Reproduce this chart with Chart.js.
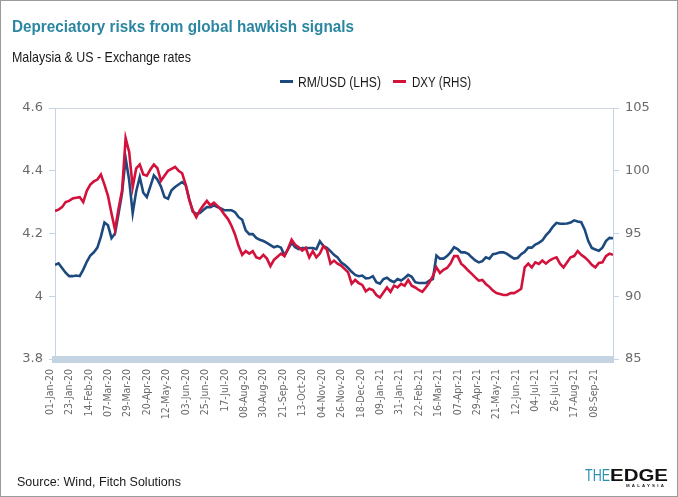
<!DOCTYPE html>
<html>
<head>
<meta charset="utf-8">
<script src="https://cdn.jsdelivr.net/npm/chart.js@4/dist/chart.umd.min.js"></script>
<style>
  html, body { margin: 0; padding: 0; background: #fff; }
  #page { position: relative; width: 678px; height: 497px; overflow: hidden; background: #fff; }
  #frame { position: absolute; left: 0; top: 0; width: 676px; height: 495px; border: 1px solid #9a9a9a; pointer-events: none; }
  canvas#chart { position: absolute; left: 0; top: 0; }
  .t { position: absolute; white-space: nowrap; display: inline-block; transform-origin: 0 50%; font-family: "Liberation Sans", Arial, sans-serif; }
  #title { left: 12px; top: 19px; font-size: 16px; line-height: 16px; font-weight: bold; color: #2b87a1; }
  #subtitle { left: 12px; top: 49px; font-size: 15px; line-height: 15px; color: #1a1a1a; }
  .lgline { position: absolute; height: 3px; width: 13px; }
  #lg1 { left: 298px; top: 74px; font-size: 15.5px; line-height: 15.5px; color: #1a1a1a; }
  #lg2 { left: 412px; top: 74px; font-size: 15.5px; line-height: 15.5px; color: #1a1a1a; }
  #source { left: 17px; top: 475px; font-size: 13px; line-height: 13px; color: #1a1a1a; }
  #logoThe { left: 585px; top: 467px; font-size: 17px; line-height: 17px; color: #2b8fae; font-weight: normal; }
  #logoEdge { left: 610px; top: 467px; font-size: 17px; line-height: 17px; color: #111; font-weight: 900; }
  #logoMy { left: 626px; top: 484px; font-size: 4px; line-height: 4px; color: #222; letter-spacing: 2px; font-weight: bold; }
</style>
</head>
<body>
<div id="page">
  <canvas id="chart" width="678" height="497"></canvas>
  <div class="t" id="title">Depreciatory risks from global hawkish signals</div>
  <div class="t" id="subtitle">Malaysia &amp; US - Exchange rates</div>
  <div class="lgline" style="left:280px; top:80px; background:#1d4a7e;"></div>
  <div class="t" id="lg1">RM/USD (LHS)</div>
  <div class="lgline" style="left:393px; top:80px; background:#d3123c;"></div>
  <div class="t" id="lg2">DXY (RHS)</div>
  <div class="t" id="source">Source: Wind, Fitch Solutions</div>
  <div class="t" id="logoThe">THE</div>
  <div class="t" id="logoEdge">EDGE</div>
  <div class="t" id="logoMy">MALAYSIA</div>
  <div id="frame"></div>
</div>
<script>
// ---- Data ----
// Series sampled every 4 calendar days starting 01-Jan-2020
const startDate = Date.UTC(2020, 0, 1);
const sampleStepDays = 4;
const tickStepDays = 22;

const tickLabels = [
  '01-Jan-20','23-Jan-20','14-Feb-20','07-Mar-20','29-Mar-20','20-Apr-20','12-May-20',
  '03-Jun-20','25-Jun-20','17-Jul-20','08-Aug-20','30-Aug-20','21-Sep-20','13-Oct-20',
  '04-Nov-20','26-Nov-20','18-Dec-20','09-Jan-21','31-Jan-21','22-Feb-21','16-Mar-21',
  '07-Apr-21','29-Apr-21','21-May-21','12-Jun-21','04-Jul-21','26-Jul-21','17-Aug-21','08-Sep-21'
];

const rmUsd = [
  4.100,4.105,4.090,4.075,4.064,4.064,4.066,4.064,4.085,4.110,
  4.130,4.140,4.155,4.190,4.235,4.226,4.185,4.200,4.264,4.330,
  4.440,4.370,4.265,4.335,4.380,4.330,4.316,4.350,4.385,4.372,
  4.350,4.316,4.311,4.338,4.348,4.356,4.364,4.355,4.310,4.270,
  4.263,4.265,4.275,4.284,4.284,4.290,4.284,4.280,4.274,4.274,
  4.274,4.268,4.252,4.244,4.210,4.198,4.198,4.186,4.180,4.176,
  4.170,4.163,4.156,4.160,4.155,4.130,4.150,4.170,4.156,4.150,
  4.154,4.154,4.154,4.154,4.150,4.175,4.160,4.154,4.144,4.132,
  4.124,4.108,4.100,4.090,4.078,4.068,4.064,4.066,4.057,4.058,
  4.064,4.045,4.040,4.055,4.059,4.050,4.045,4.055,4.050,4.058,
  4.068,4.062,4.045,4.042,4.042,4.042,4.050,4.055,4.130,4.120,
  4.120,4.128,4.140,4.156,4.150,4.140,4.140,4.135,4.124,4.114,
  4.108,4.112,4.124,4.120,4.134,4.136,4.140,4.140,4.135,4.127,
  4.120,4.122,4.134,4.142,4.155,4.155,4.165,4.170,4.178,4.194,
  4.206,4.222,4.234,4.231,4.231,4.232,4.235,4.242,4.238,4.236,
  4.212,4.176,4.154,4.149,4.145,4.155,4.176,4.186,4.185
];

const dxy = [
  96.8,96.9,97.1,97.5,97.6,97.8,97.85,97.9,97.5,98.4,
  98.9,99.15,99.3,99.7,98.9,98.0,96.6,95.3,97.0,98.44,
  102.6,101.5,98.7,100.2,100.5,99.7,99.6,100.1,100.5,100.2,
  99.2,99.6,100.0,100.15,100.3,100.0,99.8,98.9,97.7,96.84,
  96.3,96.84,97.24,97.6,97.24,97.45,97.2,96.9,96.5,96.15,
  95.6,94.9,94.0,93.3,93.6,93.4,93.6,93.1,93.0,93.3,
  93.0,92.4,92.9,93.15,93.4,93.2,93.8,94.5,94.1,93.9,
  93.64,93.85,93.1,93.6,93.1,93.4,94.0,93.7,92.6,92.84,
  92.6,92.44,92.18,91.9,91.0,91.3,91.05,90.9,90.4,90.6,
  90.5,90.1,89.9,90.3,90.7,90.35,90.84,90.7,90.98,90.84,
  91.3,90.84,90.7,90.5,90.35,90.7,91.1,91.6,92.3,91.85,
  92.1,92.25,92.6,93.2,93.2,92.6,92.35,92.05,91.78,91.5,
  91.24,91.3,90.98,90.75,90.45,90.25,90.18,90.1,90.1,90.25,
  90.25,90.4,90.6,92.3,92.6,92.3,92.7,92.58,92.84,92.6,
  92.84,93.0,93.1,92.6,92.3,92.7,93.1,93.2,93.6,93.3,
  93.1,92.84,92.5,92.3,92.65,92.7,93.2,93.4,93.3
];

const leftTicks = [3.8, 4, 4.2, 4.4, 4.6];
const rightTicks = [85, 90, 95, 100, 105];

// ---- Build chart ----
const toPoints = arr => arr.map((v, i) => ({ x: i * sampleStepDays, y: v }));
const lastDay = (rmUsd.length - 1) * sampleStepDays;

const axisCol = '#c5d4e3';
const tickFont = { family: 'DejaVu Sans', size: 13 };
const xFont = { family: 'DejaVu Sans Condensed, DejaVu Sans', size: 10.5 };

new Chart(document.getElementById('chart'), {
  type: 'line',
  data: {
    datasets: [
      { label: 'RM/USD (LHS)', data: toPoints(rmUsd), yAxisID: 'y', borderColor: '#1d4a7e',
        borderWidth: 2.6, pointRadius: 0, tension: 0, order: 1 },
      { label: 'DXY (RHS)', data: toPoints(dxy), yAxisID: 'y1', borderColor: '#d3123c',
        borderWidth: 2.6, pointRadius: 0, tension: 0, order: 0 }
    ]
  },
  options: {
    responsive: false,
    animation: false,
    devicePixelRatio: 1,
    layout: { padding: { top: 108, left: 0, right: 0, bottom: 0 } },
    plugins: { legend: { display: false }, tooltip: { enabled: false } },
    scales: {
      x: {
        type: 'linear', min: 0, max: lastDay,
        grid: { display: false, drawTicks: false },
        border: { display: true, color: axisCol, width: 7 },
        afterBuildTicks: s => { s.ticks = tickLabels.map((_, i) => ({ value: i * tickStepDays })); },
        afterFit: s => { s.height = 497 - 359; },
        ticks: {
          autoSkip: false, minRotation: 90, maxRotation: 90, padding: 10, labelOffset: -5,
          color: '#6a6a6a', font: xFont,
          callback: (v, i) => tickLabels[i]
        }
      },
      y: {
        position: 'left', min: 3.8, max: 4.6,
        afterBuildTicks: s => { s.ticks = leftTicks.map(v => ({ value: v })); },
        afterFit: s => { s.width = 55; },
        grid: {
          color: c => (c.tick && c.tick.value === 4.6) ? '#cfd6de' : 'rgba(0,0,0,0)',
          tickColor: axisCol, tickLength: 6, lineWidth: 1
        },
        border: { display: true, color: axisCol, width: 1 },
        ticks: { padding: 6, color: '#6a6a6a', font: tickFont, callback: v => String(v) }
      },
      y1: {
        position: 'right', min: 85, max: 105,
        afterBuildTicks: s => { s.ticks = rightTicks.map(v => ({ value: v })); },
        afterFit: s => { s.width = 678 - 613; },
        grid: { drawOnChartArea: false, color: axisCol, tickColor: axisCol, tickLength: 6 },
        border: { display: true, color: axisCol, width: 1 },
        ticks: { padding: 6, color: '#6a6a6a', font: tickFont, callback: v => String(v) }
      }
    }
  }
});

// ---- squeeze the condensed-looking texts to their reference widths ----
function fit(id, w) {
  const el = document.getElementById(id);
  const r = el.getBoundingClientRect().width;
  if (r > 0) el.style.transform = 'scaleX(' + (w / r) + ')';
}
fit('title', 342);
fit('subtitle', 179);
fit('lg1', 83);
fit('lg2', 59);
fit('source', 164);
fit('logoThe', 25);
fit('logoEdge', 58);
fit('logoMy', 40);
</script>
</body>
</html>
